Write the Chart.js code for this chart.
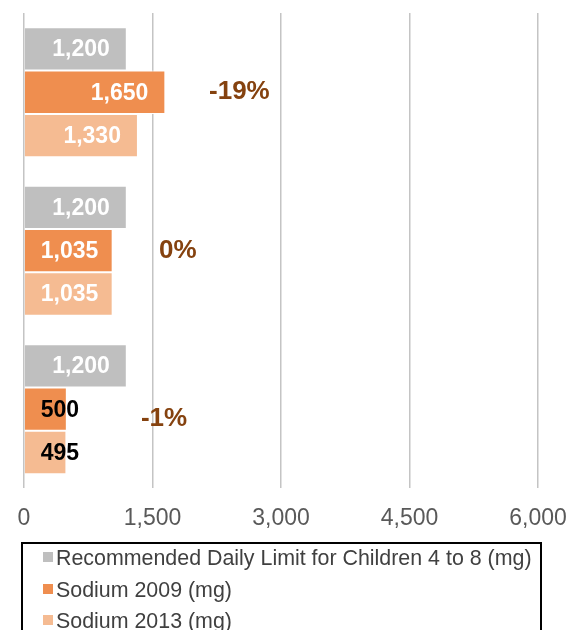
<!DOCTYPE html>
<html>
<head>
<meta charset="utf-8">
<script src="https://cdn.jsdelivr.net/npm/chart.js@4.4.1/dist/chart.umd.min.js"></script>
<style>
  html, body { margin: 0; padding: 0; background: #fff; overflow: hidden; }
  #wrap { position: relative; width: 571px; height: 630px; }
  #chart { position: absolute; left: 0; top: 0; }
  #legend {
    position: absolute; left: 21px; top: 542px; width: 521px; height: 120px;
    border: 2px solid #000; box-sizing: border-box;
    font-family: "Liberation Sans", Arial, sans-serif; font-size: 21.4px; color: #404040;
  }
  #legend .inner { margin-top: -1px; }
  .item { height: 31.5px; line-height: 31.5px; white-space: nowrap; }
  .sw { display: inline-block; width: 10px; height: 10px; margin-left: 20px; margin-right: 3px; vertical-align: middle; position: relative; top: -2px; }
</style>
</head>
<body>
<div id="wrap">
  <canvas id="chart" width="571" height="630"></canvas>
  <div id="legend"><div class="inner"></div></div>
</div>
<script>
// datos
const categorias = ['Grupo 1', 'Grupo 2', 'Grupo 3'];
const recomendado = [1200, 1200, 1200];
const sodio2009 = [1650, 1035, 500];
const sodio2013 = [1330, 1035, 495];
const cambios = ['-19%', '0%', '-1%'];
const cambiosX = [2160, 1575, 1365];
const cambiosY = [0, 1, 2.06];
const ticksX = [0, 1500, 3000, 4500, 6000];

const series = [
  { label: 'Recommended Daily Limit for Children 4 to 8 (mg)', data: recomendado, color: '#BFBFBF' },
  { label: 'Sodium 2009 (mg)', data: sodio2009, color: '#EF8E4F' },
  { label: 'Sodium 2013 (mg)', data: sodio2013, color: '#F5BB92' }
];

const fmt = v => v.toLocaleString('en-US');

// etiquetas de valor dentro de las barras
const etiquetas = {
  id: 'etiquetas',
  afterDatasetsDraw(chart) {
    const ctx = chart.ctx;
    ctx.save();
    ctx.font = 'bold 23px "Liberation Sans", Arial, sans-serif';
    ctx.textBaseline = 'middle';
    ctx.textAlign = 'left';
    chart.data.datasets.forEach((ds, i) => {
      chart.getDatasetMeta(i).data.forEach((bar, j) => {
        const txt = fmt(ds.data[j]);
        const w = ctx.measureText(txt).width;
        let left = Math.max(bar.x - 17 - w, bar.base + 16);
        // si no cabe en la barra, texto negro
        ctx.fillStyle = (left + w > bar.x) ? '#000' : '#fff';
        ctx.fillText(txt, left, bar.y + 1);
      });
    });
    // cambios porcentuales
    ctx.font = 'bold 26px "Liberation Sans", Arial, sans-serif';
    ctx.fillStyle = '#85420F';
    const sx = chart.scales.x, sy = chart.scales.y;
    cambios.forEach((c, k) => {
      ctx.fillText(c, sx.getPixelForValue(cambiosX[k]), sy.getPixelForValue(cambiosY[k]));
    });
    ctx.restore();
  }
};

new Chart(document.getElementById('chart'), {
  type: 'bar',
  data: {
    labels: categorias,
    datasets: series.map(s => ({
      label: s.label,
      data: s.data,
      backgroundColor: s.color,
      borderColor: '#ffffff',
      borderWidth: 1,
      categoryPercentage: 0.82,
      barPercentage: 1
    }))
  },
  options: {
    indexAxis: 'y',
    responsive: false,
    animation: false,
    layout: { padding: { left: 24, right: 33, top: 13, bottom: 98 } },
    scales: {
      x: {
        min: 0, max: 6000,
        afterBuildTicks: axis => { axis.ticks = ticksX.map(v => ({ value: v })); },
        grid: { color: '#C4C4C4', lineWidth: 1.5, drawTicks: true, tickLength: 16, tickColor: 'rgba(0,0,0,0)' },
        border: { display: false },
        ticks: {
          padding: 0,
          color: '#595959',
          font: { family: '"Liberation Sans", Arial, sans-serif', size: 23 },
          maxRotation: 0,
          callback: v => fmt(v)
        }
      },
      y: { display: false, offset: true }
    },
    plugins: {
      legend: { display: false },
      tooltip: { enabled: false }
    }
  },
  plugins: [etiquetas]
});

// leyenda en html
const leg = document.querySelector('#legend .inner');
series.forEach(s => {
  const d = document.createElement('div');
  d.className = 'item';
  d.innerHTML = '<span class="sw" style="background:' + s.color + '"></span>' + s.label;
  leg.appendChild(d);
});
</script>
</body>
</html>
